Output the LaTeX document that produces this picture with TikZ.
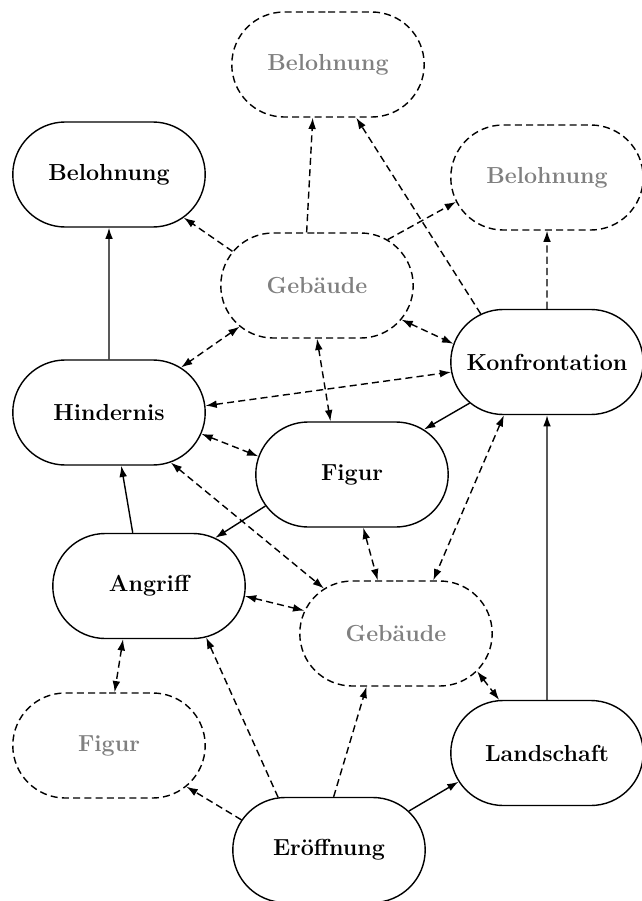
\documentclass[tikz,border=0pt]{standalone}
\usepackage{tikz}
\usetikzlibrary{arrows.meta,shapes.misc}
\usepackage{xcolor}
\definecolor{Ink}{HTML}{000000}
\definecolor{Ghost}{HTML}{808080}
\tikzset{
 >={Latex[length=8pt,width=5.5pt]},
 plotnode/.style={rounded rectangle, draw=Ink, line width=1pt, fill=white, minimum width=4.95cm, minimum height=2.625cm, inner sep=2pt, font=\fontsize{16.5}{20}\selectfont\bfseries},
 ghostnode/.style={plotnode, dash pattern=on 5pt off 3pt, text=Ghost},
 arrow/.style={->, line width=1pt, draw=Ink},
 dashedarrow/.style={arrow, dash pattern=on 5pt off 3pt},
 twoway/.style={dashedarrow, <->}
}
\begin{document}
\begin{tikzpicture}[x=0.025cm,y=-0.025cm]
\useasboundingbox (0,0) rectangle (641,901);
% story beats
\node[ghostnode] (belT) at (328,64.5) {Belohnung};
\node[plotnode] (belL) at (109,174.5) {Belohnung};
\node[ghostnode] (belR) at (547,177.5) {Belohnung};
\node[ghostnode] (gebT) at (317,285.5) {Gebäude};
\node[plotnode] (konf) at (547,362) {Konfrontation};
\node[plotnode] (hind) at (109,412.5) {Hindernis};
\node[plotnode] (figB) at (352,474.5) {Figur};
\node[plotnode] (angr) at (149,586) {Angriff};
\node[ghostnode] (gebB) at (396,633.5) {Gebäude};
\node[ghostnode] (figG) at (109,745.5) {Figur};
\node[plotnode] (land) at (547,753) {Landschaft};
\node[plotnode] (eroe) at (329,850) {Eröffnung};
% main line
\draw[arrow] (hind) -- (belL);
\draw[arrow] (land) -- (konf);
\foreach \a/\b in {angr.107/hind.283, figB.200/angr.36, konf.208/figB.32, eroe.26/land.198}{\draw[arrow] (\a) -- (\b);}
% optional branches
\draw[dashedarrow] (konf) -- (belR);
\foreach \a/\b in {gebT.101/belT.254, gebT.158/belL.330, gebT.33/belR.195, konf.144/belT.298, eroe.161/figG.332, eroe.134/angr.318, eroe.85/gebB.241}{\draw[dashedarrow] (\a) -- (\b);}
\foreach \a/\b in {gebT.338/konf.169, gebT.208/hind.32, gebT.270/figB.112, hind.4/konf.186, hind.347/figB.169, hind.321/gebB.148, figB.282/gebB.109, konf.231/gebB.55, angr.354/gebB.166, angr.244/figG.84, gebB.335/land.132}{\draw[twoway] (\a) -- (\b);}
\end{tikzpicture}
\end{document}
